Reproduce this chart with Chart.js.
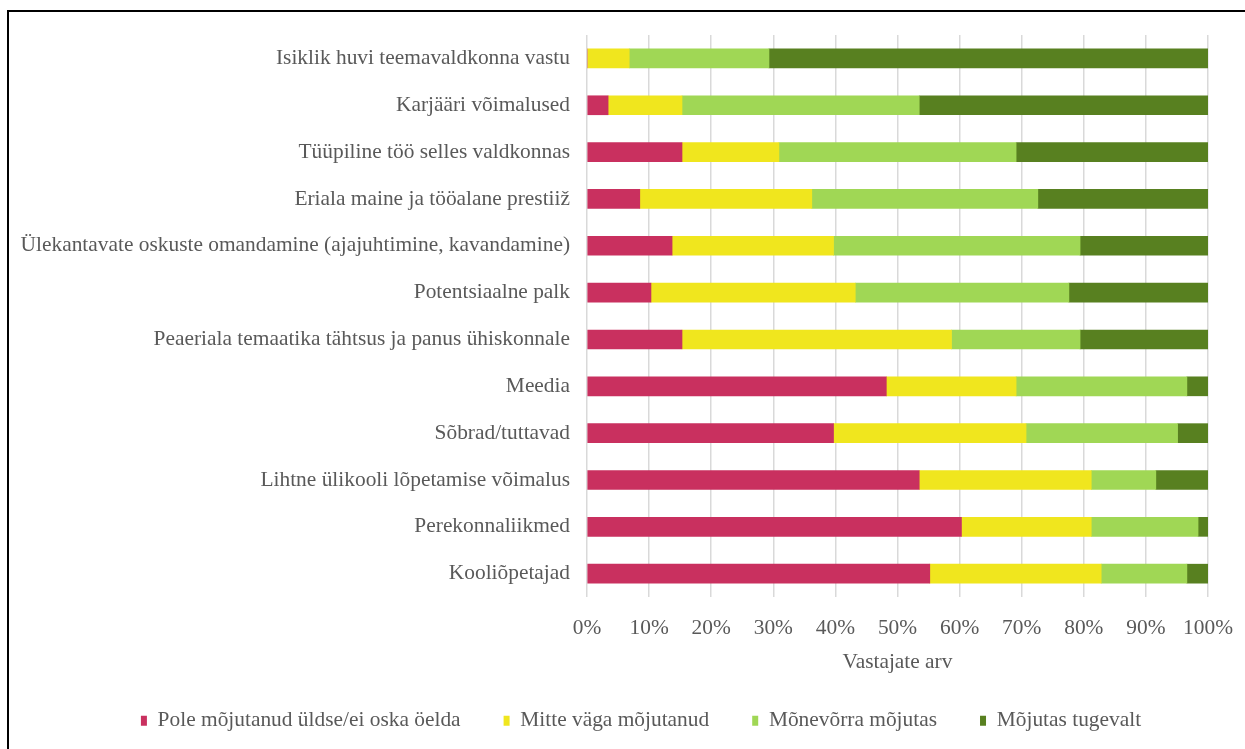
<!DOCTYPE html>
<html>
<head>
<meta charset="utf-8">
<script src="https://cdn.jsdelivr.net/npm/chart.js@4.4.1/dist/chart.umd.min.js"></script>
<style>
  html, body { margin: 0; padding: 0; background: #fff; }
  #wrap { position: relative; width: 1245px; height: 749px; overflow: hidden; }
  #frame { position: absolute; left: 7px; top: 10px; width: 1300px; height: 800px;
           border-top: 2px solid #000; border-left: 2px solid #000; }
  canvas { position: absolute; left: 0; top: 0; }
</style>
</head>
<body>
<div id="wrap">
  <div id="frame"></div>
  <canvas id="chart" width="1245" height="749"></canvas>
</div>
<script>
var categories = [
  'Isiklik huvi teemavaldkonna vastu',
  'Karjääri võimalused',
  'Tüüpiline töö selles valdkonnas',
  'Eriala maine ja tööalane prestiiž',
  'Ülekantavate oskuste omandamine (ajajuhtimine, kavandamine)',
  'Potentsiaalne palk',
  'Peaeriala temaatika tähtsus ja panus ühiskonnale',
  'Meedia',
  'Sõbrad/tuttavad',
  'Lihtne ülikooli lõpetamise võimalus',
  'Perekonnaliikmed',
  'Kooliõpetajad'
]

var seriesNames = [
  'Pole mõjutanud üldse/ei oska öelda',
  'Mitte väga mõjutanud',
  'Mõnevõrra mõjutas',
  'Mõjutas tugevalt'
]

var poleMojutanud = [0, 3.4, 15.3, 8.5, 13.7, 10.3, 15.3, 48.2, 39.7, 53.5, 60.3, 55.2]
var mitteVaga = [6.8, 11.9, 15.6, 27.7, 26.0, 32.9, 43.4, 20.9, 31.0, 27.7, 20.9, 27.6]
var monevorra = [22.5, 38.2, 38.2, 36.4, 39.7, 34.4, 20.7, 27.5, 24.4, 10.4, 17.2, 13.8]
var tugevalt = [70.7, 46.5, 30.9, 27.4, 20.6, 22.4, 20.6, 3.4, 4.9, 8.4, 1.6, 3.4]

var xTicks = [0, 10, 20, 30, 40, 50, 60, 70, 80, 90, 100]

var colors = ['#c9305f', '#f0e61e', '#a0d755', '#588020']
var textColor = '#595959'
var serif = 'Liberation Serif, Times New Roman, serif'
var fontSize = 21.4

var values = [poleMojutanud, mitteVaga, monevorra, tugevalt]
var datasets = values.map(function (v, i) {
  return {
    label: seriesNames[i],
    data: v,
    backgroundColor: colors[i],
    borderWidth: 0,
    barThickness: 19
  }
})

// legend is centred a bit right of the canvas middle in the original
var legendShift = {
  id: 'legendShift',
  afterLayout: function (chart) {
    var lg = chart.legend
    lg.left += 37
    lg.right += 37
  }
}

var ctx = document.getElementById('chart').getContext('2d')

var chart = new Chart(ctx, {
  type: 'bar',
  data: { labels: categories, datasets: datasets },
  plugins: [legendShift],
  options: {
    indexAxis: 'y',
    responsive: false,
    animation: false,
    layout: { padding: { left: 0, right: 37, top: 35, bottom: 7.5 } },
    scales: {
      x: {
        stacked: true,
        min: 0,
        max: 100,
        afterBuildTicks: function (scale) {
          scale.ticks = xTicks.map(function (v) { return { value: v } })
        },
        afterFit: function (scale) {
          scale.height = 70
          scale.paddingLeft = 0
          scale.paddingRight = 0
        },
        grid: { color: '#d9d9d9', lineWidth: 1.5, drawTicks: false },
        border: { display: false },
        ticks: {
          padding: 18,
          color: textColor,
          font: { family: serif, size: fontSize },
          callback: function (v) { return v + '%' }
        },
        title: {
          display: true,
          text: 'Vastajate arv',
          color: textColor,
          font: { family: serif, size: fontSize },
          padding: { top: 0, bottom: -8 }
        }
      },
      y: {
        stacked: true,
        afterFit: function (scale) { scale.width = 587 },
        grid: { display: false, drawTicks: false },
        border: { display: false },
        ticks: {
          padding: 17,
          color: textColor,
          font: { family: serif, size: fontSize },
          autoSkip: false
        }
      }
    },
    plugins: {
      tooltip: { enabled: false },
      legend: {
        position: 'bottom',
        labels: {
          boxWidth: 6,
          boxHeight: 10,
          padding: 43,
          color: textColor,
          font: { family: serif, size: fontSize }
        }
      }
    }
  }
})
</script>
</body>
</html>
